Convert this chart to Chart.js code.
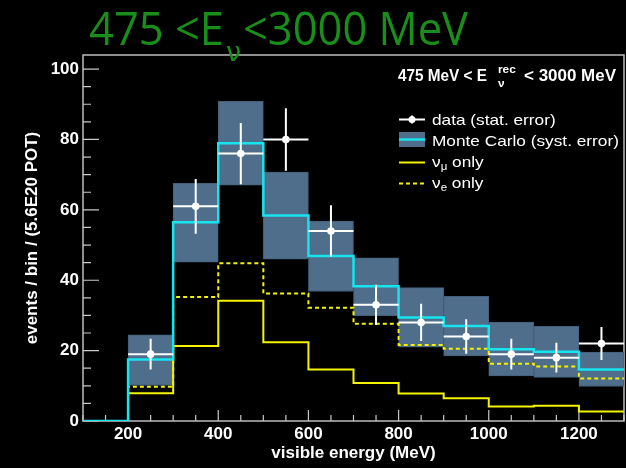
<!DOCTYPE html>
<html><head><meta charset="utf-8">
<script src="https://cdn.jsdelivr.net/npm/chart.js@4.4.0/dist/chart.umd.min.js"></script>
<style>html,body{margin:0;padding:0;background:#000;overflow:hidden}</style>
</head><body>
<canvas id="c" width="626" height="468"></canvas>
<script>
// ---- data (bins of 100 MeV, lower edges) ----
const binLow    = [200, 300, 400, 500, 600, 700, 800, 900, 1000, 1100, 1200];
const binWidth  = 100;
const dataCounts = [19, 61, 76, 80, 54, 33, 28, 24, 19, 18, 22];
const dataErr    = [4.4, 7.8, 8.7, 8.9, 7.3, 5.7, 5.3, 4.9, 4.4, 4.2, 4.7];
const mcTotal    = [17.5, 56.5, 78.9, 58.4, 46.9, 38.3, 29.4, 27.0, 20.4, 19.7, 14.6];
const systLow    = [10.1, 45.1, 67.0, 46.0, 36.8, 29.9, 21.0, 18.5, 12.8, 12.4, 9.8];
const systHigh   = [24.5, 67.5, 90.8, 70.7, 56.8, 46.4, 37.9, 35.4, 28.1, 26.9, 19.6];
const nuEOnly    = [9.7, 35.2, 44.8, 36.2, 32.2, 27.6, 21.6, 20.5, 16.3, 15.5, 12.1];
const nuMuOnly   = [7.9, 21.3, 34.2, 22.4, 14.6, 10.8, 7.8, 6.5, 4.1, 4.3, 2.7];
const xTickLabels = [200, 400, 600, 800, 1000, 1200];
const yTickLabels = [0, 20, 40, 60, 80, 100];
const xRange = [100, 1300];
const yRange = [0, 104];

// step histogram points (stepped 'before': horizontal at previous value)
function stepPoints(vals) {
  const pts = [{x: xRange[0], y: 0}];
  binLow.forEach((x, i) => pts.push({x: x, y: vals[i]}));
  pts.push({x: binLow[binLow.length - 1] + binWidth, y: vals[vals.length - 1]});
  return pts;
}

const BOX = '#4f6e8c', CYAN = '#16e4ef', YEL = '#f4f400', FRAME = '#bdbdbd';
const SANS = '"Liberation Sans", Arial, sans-serif';

const bgPlugin = {
  id: 'bg',
  beforeDraw(chart) {
    const ctx = chart.ctx;
    ctx.save(); ctx.fillStyle = '#000'; ctx.fillRect(0, 0, chart.width, chart.height); ctx.restore();
  }
};

const framePlugin = {
  id: 'frame',
  beforeDatasetsDraw(chart) {
    const {ctx, chartArea: a, scales: {x, y}} = chart;
    ctx.save();
    ctx.strokeStyle = FRAME; ctx.lineWidth = 1.5;
    ctx.strokeRect(a.left, a.top, a.right - a.left, a.bottom - a.top);
    ctx.strokeStyle = '#c8c8c8'; ctx.lineWidth = 1.2;
    ctx.beginPath();
    for (let v = xRange[0]; v <= xRange[1]; v += 50) {
      const px = x.getPixelForValue(v);
      const len = (v % 200 === 0) ? 11 : 6;
      ctx.moveTo(px, a.bottom); ctx.lineTo(px, a.bottom - len);
    }
    for (let v = 0; v <= yRange[1]; v += 5) {
      const py = y.getPixelForValue(v);
      const len = (v % 20 === 0) ? 16 : 8;
      ctx.moveTo(a.left, py); ctx.lineTo(a.left + len, py);
    }
    ctx.stroke();
    ctx.restore();
  }
};

const dataPlugin = {
  id: 'dataPts',
  afterDatasetsDraw(chart) {
    const {ctx, scales: {x, y}} = chart;
    ctx.save();
    ctx.strokeStyle = '#fff'; ctx.fillStyle = '#fff'; ctx.lineWidth = 2;
    binLow.forEach((lo, i) => {
      const x0 = x.getPixelForValue(lo), x1 = x.getPixelForValue(lo + binWidth);
      const xc = x.getPixelForValue(lo + binWidth / 2);
      const yc = y.getPixelForValue(dataCounts[i]);
      ctx.beginPath();
      ctx.moveTo(x0, yc); ctx.lineTo(x1, yc);
      ctx.moveTo(xc, y.getPixelForValue(dataCounts[i] + dataErr[i]));
      ctx.lineTo(xc, y.getPixelForValue(dataCounts[i] - dataErr[i]));
      ctx.stroke();
      ctx.beginPath(); ctx.arc(xc, yc, 3.8, 0, Math.PI * 2); ctx.fill();
    });
    ctx.restore();
  }
};

function drawPiece(ctx, text, font, x, y, sx) {
  ctx.font = font;
  const w = ctx.measureText(text).width;
  ctx.save(); ctx.translate(x, y); ctx.scale(sx, 1); ctx.fillText(text, 0, 0); ctx.restore();
  return w * sx;
}
function drawFit(ctx, text, font, x0, x1, y) {
  ctx.font = font;
  const w = ctx.measureText(text).width;
  return drawPiece(ctx, text, font, x0, y, (x1 - x0) / w);
}

const textPlugin = {
  id: 'texts',
  afterDraw(chart) {
    const ctx = chart.ctx;
    ctx.save();
    ctx.textBaseline = 'alphabetic'; ctx.textAlign = 'left';
    // big green title
    ctx.fillStyle = '#1a8e1a';
    const TF = '45px "Open Sans", Lato, sans-serif';
    drawFit(ctx, '475 <E', TF, 89, 224, 45);
    drawPiece(ctx, 'ν', '27px "DejaVu Sans", sans-serif', 226, 61, 1);
    drawFit(ctx, '<3000 MeV', TF, 243, 468, 45);

    // top-right label
    ctx.fillStyle = '#fff';
    const LB = 'bold 16px ' + SANS;
    drawFit(ctx, '475 MeV < E', LB, 398, 487, 81);
    drawPiece(ctx, 'rec', 'bold 11px ' + SANS, 498, 73, 1.08);
    drawPiece(ctx, 'ν', 'bold 11px ' + SANS, 498, 87, 1.08);
    drawFit(ctx, '< 3000 MeV', LB, 524, 616, 81);

    // legend
    const LF = '15px ' + SANS, SF = '10px ' + SANS, SX = 1.15;
    const lx0 = 399, lx1 = 425, tx = 432;
    const rows = [119.5, 139.5, 162.5, 183.5];
    ctx.strokeStyle = '#fff'; ctx.lineWidth = 2;
    ctx.beginPath();
    ctx.moveTo(lx0, rows[0]); ctx.lineTo(lx1, rows[0]);
    ctx.moveTo((lx0 + lx1) / 2, rows[0] - 4); ctx.lineTo((lx0 + lx1) / 2, rows[0] + 4);
    ctx.stroke();
    ctx.beginPath(); ctx.arc((lx0 + lx1) / 2, rows[0], 3.5, 0, Math.PI * 2); ctx.fill();
    drawPiece(ctx, 'data (stat. error)', LF, tx, rows[0] + 5, SX);
    ctx.fillStyle = BOX; ctx.fillRect(lx0, rows[1] - 7.5, lx1 - lx0, 15);
    ctx.strokeStyle = CYAN; ctx.lineWidth = 2.5;
    ctx.beginPath(); ctx.moveTo(lx0, rows[1]); ctx.lineTo(lx1, rows[1]); ctx.stroke();
    ctx.fillStyle = '#fff';
    drawPiece(ctx, 'Monte Carlo (syst. error)', LF, tx, rows[1] + 6, SX);
    ctx.strokeStyle = YEL; ctx.lineWidth = 2;
    ctx.beginPath(); ctx.moveTo(lx0, rows[2]); ctx.lineTo(lx1, rows[2]); ctx.stroke();
    let cx = tx;
    cx += drawPiece(ctx, 'ν', LF, cx, rows[2] + 4, SX);
    cx += drawPiece(ctx, 'μ', SF, cx, rows[2] + 7, SX);
    drawPiece(ctx, ' only', LF, cx, rows[2] + 4, SX);
    ctx.setLineDash([4, 3]);
    ctx.beginPath(); ctx.moveTo(lx0, rows[3]); ctx.lineTo(lx1, rows[3]); ctx.stroke();
    ctx.setLineDash([]);
    cx = tx;
    cx += drawPiece(ctx, 'ν', LF, cx, rows[3] + 4, SX);
    cx += drawPiece(ctx, 'e', SF, cx, rows[3] + 7, SX);
    drawPiece(ctx, ' only', LF, cx, rows[3] + 4, SX);
    ctx.restore();
  }
};

const tickFont = {family: SANS, weight: 'bold', size: 17};

new Chart(document.getElementById('c'), {
  type: 'bar',
  data: {
    datasets: [
      {
        type: 'line', label: 'Monte Carlo', order: 1,
        data: stepPoints(mcTotal), stepped: 'before',
        borderColor: CYAN, borderWidth: 2.5, pointRadius: 0, fill: false
      },
      {
        type: 'line', label: 'nu_mu only', order: 2,
        data: stepPoints(nuMuOnly), stepped: 'before',
        borderColor: YEL, borderWidth: 2, pointRadius: 0, fill: false
      },
      {
        type: 'line', label: 'nu_e only', order: 3,
        data: stepPoints(nuEOnly), stepped: 'before',
        borderColor: YEL, borderWidth: 2, borderDash: [4, 3], pointRadius: 0, fill: false
      },
      {
        type: 'bar', label: 'syst', order: 4,
        data: binLow.map((lo, i) => ({x: lo + binWidth / 2, y: [systLow[i], systHigh[i]]})),
        backgroundColor: BOX, borderColor: '#445f7a', borderWidth: 1, borderSkipped: false,
        barPercentage: 1, categoryPercentage: 1
      }
    ]
  },
  options: {
    responsive: false, animation: false, devicePixelRatio: 1,
    layout: {padding: {left: 0, right: 2, top: 55, bottom: 0}},
    plugins: {legend: {display: false}, tooltip: {enabled: false}, title: {display: false}},
    scales: {
      x: {
        type: 'linear', min: xRange[0], max: xRange[1], offset: false,
        grid: {display: false, drawTicks: false}, border: {display: false},
        afterBuildTicks: s => { s.ticks = xTickLabels.map(v => ({value: v})); },
        afterFit: s => { s.height = 47; },
        ticks: {color: '#fff', font: tickFont, padding: 3, maxRotation: 0, autoSkip: false,
                callback: v => String(v)},
        title: {display: true, text: 'visible energy (MeV)', color: '#fff',
                font: {family: SANS, weight: 'bold', size: 17}, padding: {top: 0, bottom: 4}}
      },
      y: {
        type: 'linear', min: yRange[0], max: yRange[1],
        grid: {display: false, drawTicks: false}, border: {display: false},
        afterBuildTicks: s => { s.ticks = yTickLabels.map(v => ({value: v})); },
        afterFit: s => { s.width = 83; },
        ticks: {color: '#fff', font: tickFont, padding: 4, autoSkip: false,
                callback: v => String(v)},
        title: {display: true, text: 'events / bin / (5.6E20 POT)', color: '#fff',
                font: {family: SANS, weight: 'bold', size: 17}, padding: {top: 22, bottom: 0}}
      }
    }
  },
  plugins: [bgPlugin, framePlugin, dataPlugin, textPlugin]
});
</script>
</body></html>
